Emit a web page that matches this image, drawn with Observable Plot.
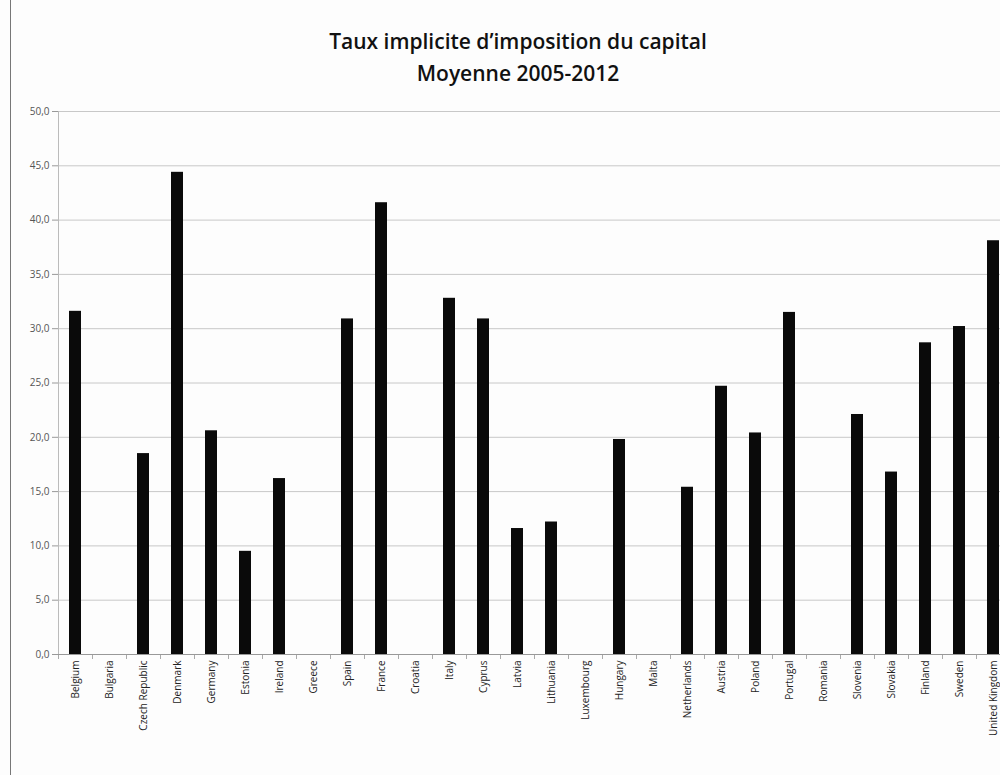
<!DOCTYPE html>
<html>
<head>
<meta charset="utf-8">
<script src="https://cdn.jsdelivr.net/npm/d3@7"></script>
<script src="https://cdn.jsdelivr.net/npm/@observablehq/plot@0.6"></script>
<style>
  html, body { margin: 0; padding: 0; background: #fff; }
  #wrap { position: relative; width: 1000px; height: 775px; overflow: hidden; background: #fdfdfd; }
  #border { position: absolute; left: 10px; top: 0; width: 0; height: 775px; border-left: 1.5px solid #777; }
  #title { position: absolute; left: 36px; top: 25px; width: 964px; text-align: center;
    font-family: "Open Sans", sans-serif; font-weight: 600; font-size: 21px; line-height: 32px; color: #111; }
  #chart { position: absolute; left: 0; top: 95px; }
</style>
</head>
<body>
<div id="wrap">
  <div id="border"></div>
  <div id="title">Taux implicite d’imposition du capital<br>Moyenne 2005-2012</div>
  <div id="chart"></div>
</div>
<script>
const countries = ["Belgium","Bulgaria","Czech Republic","Denmark","Germany","Estonia","Ireland","Greece","Spain","France","Croatia","Italy","Cyprus","Latvia","Lithuania","Luxembourg","Hungary","Malta","Netherlands","Austria","Poland","Portugal","Romania","Slovenia","Slovakia","Finland","Sweden","United Kingdom"];
const values = [31.6, null, 18.5, 44.4, 20.6, 9.5, 16.2, null, 30.9, 41.6, null, 32.8, 30.9, 11.6, 12.2, null, 19.8, null, 15.4, 24.7, 20.4, 31.5, null, 22.1, 16.8, 28.7, 30.2, 38.1];
const yTicks = [0, 5, 10, 15, 20, 25, 30, 35, 40, 45, 50];

const data = countries.map((c, i) => ({country: c, value: values[i]})).filter(d => d.value != null);
const fmt = d => d.toFixed(1).replace(".", ",");

const chart = Plot.plot({
  width: 1000,
  height: 680,
  marginTop: 16,
  marginBottom: 121,
  marginLeft: 58,
  marginRight: 0,
  style: {background: "transparent", fontFamily: "Open Sans, sans-serif"},
  x: {type: "band", domain: countries, range: [58, 1010], paddingInner: 0.64, paddingOuter: 0.32, label: null},
  y: {domain: [0, 50], label: null},
  marks: [
    Plot.gridY(yTicks, {stroke: "#c8c8c8", strokeOpacity: 1, strokeWidth: 1}),
    Plot.frame({anchor: "left", stroke: "#bbb"}),
    Plot.axisY(yTicks, {tickFormat: fmt, tickSize: 6, tickPadding: 3, fontSize: 10, fill: "#555", stroke: "#999", label: null}),
    Plot.axisX({text: null, tickSize: 5, dx: -17, stroke: "#aaa", label: null}),
    Plot.axisX({tickSize: 0, tickRotate: -90, tickPadding: 6, fontSize: 10, fill: "#222", label: null, textAnchor: "end"}),
    Plot.barY(data, {x: "country", y: "value", fill: "#0a0a0a"}),
    Plot.ruleY([0], {stroke: "#999"})
  ]
});
document.getElementById("chart").appendChild(chart);
</script>
</body>
</html>
